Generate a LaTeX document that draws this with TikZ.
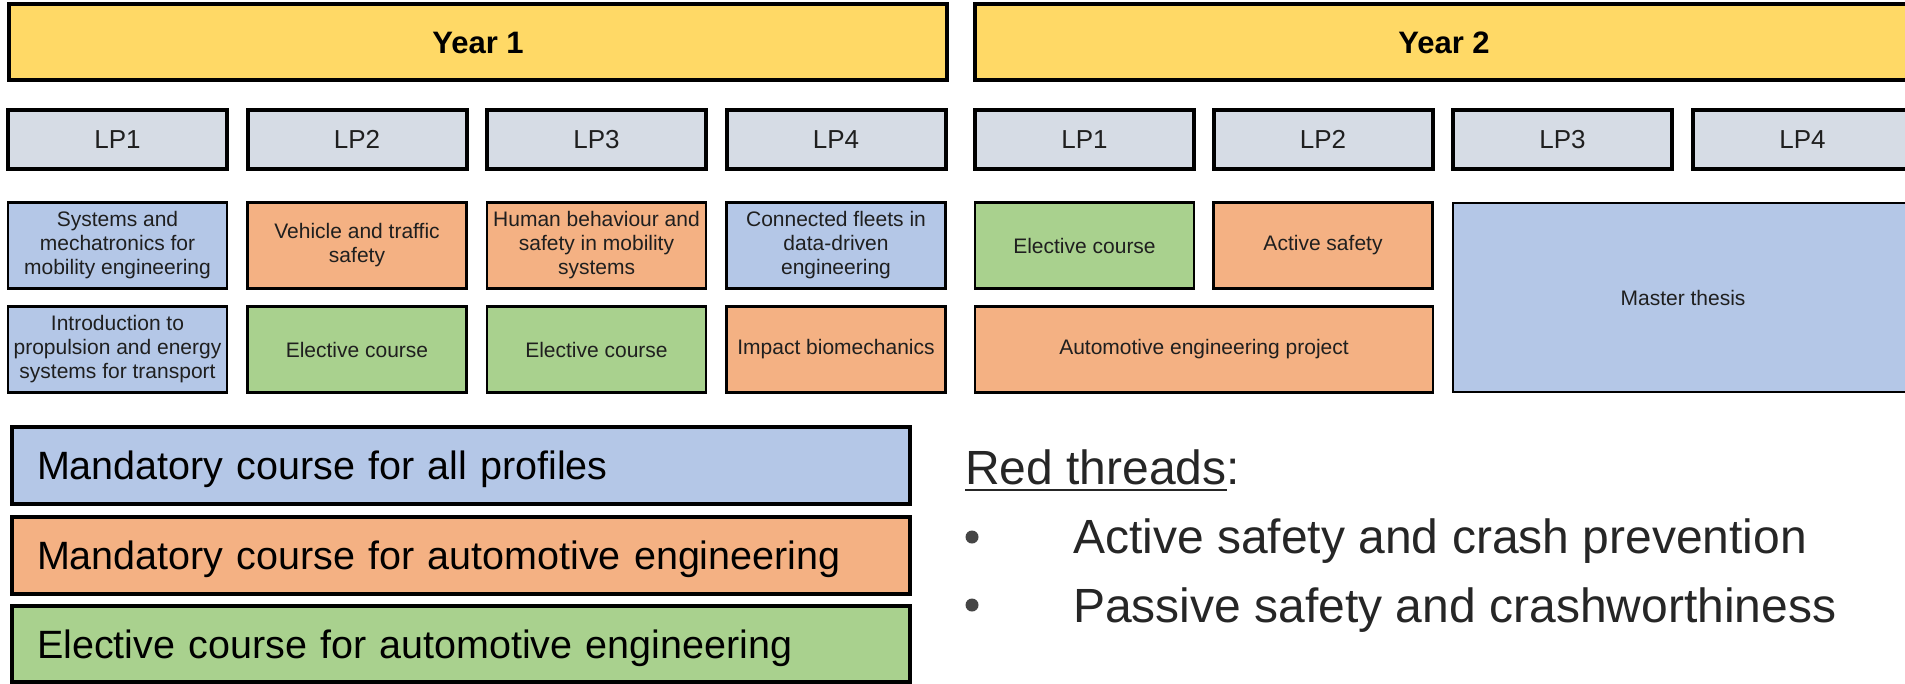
\documentclass[tikz,border=0pt]{standalone}
\usepackage{fontspec}
\setmainfont{Liberation Sans}
\definecolor{yr}{HTML}{FFD966}
\definecolor{lpg}{HTML}{D6DCE5}
\definecolor{cblue}{HTML}{B4C7E7}
\definecolor{corange}{HTML}{F4B183}
\definecolor{cgreen}{HTML}{A9D18E}
\definecolor{txt}{HTML}{1F1F1F}
\definecolor{rtxt}{HTML}{262626}
\definecolor{bul}{HTML}{454545}
\newsavebox\ulbox
\newcommand\myuline[1]{\sbox\ulbox{#1}\rlap{\rule[-7.3pt]{\wd\ulbox}{2.6pt}}\usebox\ulbox}
\begin{document}
\begin{tikzpicture}[x=1pt,y=-1pt,
  box/.style={draw=black, rectangle, inner sep=0pt, align=center},
  yearbox/.style={box, fill=yr, line width=3.5pt, minimum width=938pt, minimum height=76pt,
    text height=22pt, text depth=0pt, font=\fontsize{31pt}{34pt}\selectfont\bfseries},
  lpbox/.style={box, fill=lpg, line width=4pt, minimum width=219pt, minimum height=59pt,
    text height=18.5pt, text depth=0pt, text=txt, font=\fontsize{26pt}{29pt}\selectfont},
  course/.style={box, line width=2.5pt, minimum width=219pt, minimum height=86pt,
    text=txt, font=\fontsize{21pt}{24pt}\selectfont},
  cb/.style={course, fill=cblue},
  co/.style={course, fill=corange},
  cg/.style={course, fill=cgreen},
  legbox/.style={draw=black, rectangle, line width=4pt, minimum width=898pt, minimum height=77pt,
    text width=848pt, inner xsep=25pt, inner ysep=0pt, align=left,
    text height=28.2pt, text depth=0pt, text=black, font=\fontsize{39.5pt}{46pt}\selectfont},
  rtfont/.style={text=rtxt, inner sep=0pt, font=\fontsize{48pt}{56pt}\selectfont},
  bulletdot/.style={circle, fill=bul, minimum size=13pt, inner sep=0pt}
]
\useasboundingbox (0,0) rectangle (1905,683);
\clip (0,0) rectangle (1905,683);
\fill[white] (0,0) rectangle (1905,683);

% Years
\node[yearbox] (y1) at (478,42) {Year 1};
\node[yearbox] (y2) at (1444,42) {Year 2};

% LP headers
\node[lpbox] (a1) at (117.5,139) {LP1};
\node[lpbox] (a2) at (357,139) {LP2};
\node[lpbox] (a3) at (596.5,139) {LP3};
\node[lpbox] (a4) at (836,139) {LP4};
\node[lpbox] (b1) at (1084.5,139) {LP1};
\node[lpbox] (b2) at (1323,139) {LP2};
\node[lpbox] (b3) at (1562.5,139) {LP3};
\node[lpbox] (b4) at (1802.5,139) {LP4};

% Year 1 courses
\node[cb] (c11) at (117.5,245.5) {Systems and\\mechatronics for\\mobility engineering};
\node[co] (c12) at (357,245.5) {Vehicle and traffic\\safety};
\node[co] (c13) at (596.5,245.5) {Human behaviour and\\safety in mobility\\systems};
\node[cb] (c14) at (836,245.5) {Connected fleets in\\data-driven\\engineering};
\node[cb] (c21) at (117.5,349.5) {Introduction to\\propulsion and energy\\systems for transport};
\node[cg] (c22) at (357,349.5) {Elective course};
\node[cg] (c23) at (596.5,349.5) {Elective course};
\node[co] (c24) at (836,349.5) {Impact biomechanics};

% Year 2 courses
\node[cg] (d11) at (1084.5,245.5) {Elective course};
\node[co] (d12) at (1323,245.5) {Active safety};
\node[co, minimum width=458pt] (d2) at (1204,349.5) {Automotive engineering project};
\node[cb, minimum width=460pt, minimum height=189pt] (mt) at (1683,297.5) {Master thesis};

% Legend
\node[legbox, fill=cblue] (l1) at (461,465.5) {Mandatory course for all profiles};
\node[legbox, fill=corange] (l2) at (461,555.5) {Mandatory course for automotive engineering};
\node[legbox, fill=cgreen, minimum height=76pt] (l3) at (461,644) {Elective course for automotive engineering};

% Red threads
\node[rtfont, anchor=base west] (rt) at (965,484) {\myuline{Red threads}:};
\node[bulletdot] (p1) at (972,537) {};
\node[bulletdot] (p2) at (972,605) {};
\node[rtfont, anchor=base west] (i1) at (1073,553) {Active safety and crash prevention};
\node[rtfont, anchor=base west] (i2) at (1073,622) {Passive safety and crashworthiness};
\end{tikzpicture}
\end{document}
